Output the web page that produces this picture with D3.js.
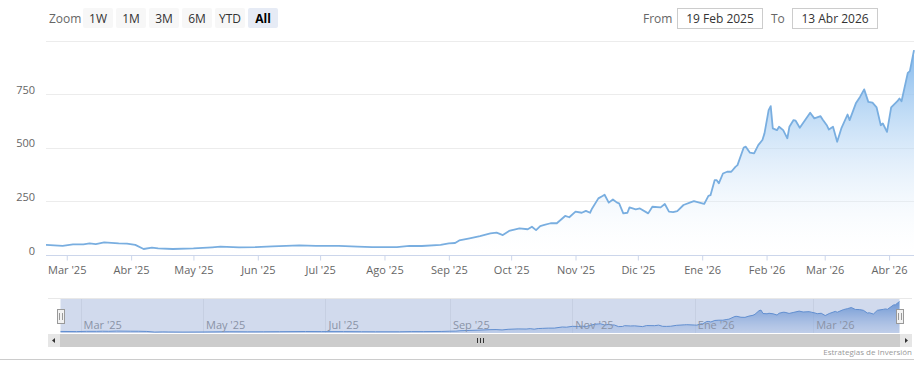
<!DOCTYPE html>
<html>
<head>
<meta charset="utf-8">
<script src="https://cdn.jsdelivr.net/npm/d3@7"></script>
<style>
  body { margin: 0; background: #fff; }
  text { font-family: "Open Sans", sans-serif; }
</style>
</head>
<body>
<div id="container"></div>
<script>
let w = 924;
let h = 378;

// price series
let dates = [
  "2025-02-19","2025-02-27","2025-03-04","2025-03-09","2025-03-12","2025-03-15","2025-03-19","2025-03-26",
  "2025-03-30","2025-04-03","2025-04-07","2025-04-11","2025-04-14","2025-04-21","2025-05-01","2025-05-10",
  "2025-05-14","2025-05-23","2025-05-31","2025-06-08","2025-06-21","2025-06-29","2025-07-10","2025-07-19",
  "2025-07-26","2025-08-07","2025-08-13","2025-08-19","2025-08-28","2025-09-01","2025-09-04","2025-09-06",
  "2025-09-11","2025-09-16","2025-09-21","2025-09-24","2025-09-27","2025-09-30","2025-10-05","2025-10-09",
  "2025-10-11","2025-10-13","2025-10-15","2025-10-17","2025-10-20","2025-10-23","2025-10-27","2025-10-29",
  "2025-11-01","2025-11-04","2025-11-06","2025-11-08","2025-11-09","2025-11-12","2025-11-14","2025-11-15",
  "2025-11-17","2025-11-19","2025-11-21","2025-11-22","2025-11-24","2025-11-26","2025-11-27","2025-11-30",
  "2025-12-02","2025-12-06","2025-12-08","2025-12-12","2025-12-14","2025-12-16","2025-12-18","2025-12-20",
  "2025-12-23","2025-12-27","2025-12-28","2026-01-01","2026-01-02","2026-01-04","2026-01-05","2026-01-07",
  "2026-01-08","2026-01-09","2026-01-11","2026-01-13","2026-01-15","2026-01-17","2026-01-18","2026-01-21",
  "2026-01-22","2026-01-24","2026-01-26","2026-01-28","2026-01-30","2026-01-31","2026-02-02","2026-02-03",
  "2026-02-04","2026-02-06","2026-02-07","2026-02-09","2026-02-11","2026-02-12","2026-02-14","2026-02-15",
  "2026-02-17","2026-02-19","2026-02-22","2026-02-24","2026-02-27","2026-02-28","2026-03-02","2026-03-03",
  "2026-03-05","2026-03-07","2026-03-09","2026-03-12","2026-03-13","2026-03-16","2026-03-18","2026-03-20",
  "2026-03-22","2026-03-24","2026-03-26","2026-03-28","2026-03-29","2026-03-31","2026-04-02","2026-04-05",
  "2026-04-06","2026-04-07","2026-04-10","2026-04-11","2026-04-13"
];
let prices = [
  47,43,50,50,54,51,59,54,
  53,47,28,34,31,28,31,36,
  39,36,37,40,45,43,43,39,
  37,37,43,42,47,54,56,68,
  78,88,101,104,93,112,124,120,
  132,116,135,140,148,148,182,176,
  202,197,206,197,217,264,275,281,
  244,259,244,241,194,197,222,213,
  217,194,225,222,238,202,200,205,
  233,248,251,241,238,276,279,349,
  349,334,380,388,388,411,419,501,
  505,477,474,512,536,567,675,694,
  590,582,598,582,544,598,629,626,
  593,621,663,637,647,632,605,585,
  598,528,590,655,629,707,737,772,
  714,710,688,605,613,574,688,717,
  730,717,849,857,955
];

let yTicks = [0, 250, 500, 750, 1000];
let monthNames = ["Ene","Feb","Mar","Abr","May","Jun","Jul","Ago","Sep","Oct","Nov","Dic"];
let zoomButtons = ["1W","1M","3M","6M","YTD","All"];
let fromLabel = "19 Feb 2025";
let toLabel = "13 Abr 2026";

let parse = d3.utcParse("%Y-%m-%d");
let data = dates.map(function(d, i){
  return { date: parse(d), value: prices[i] };
});
let startDate = parse("2025-02-19");
let endDate = parse("2026-04-13");

function monthLabel(d){
  return monthNames[d.getUTCMonth()] + " '" + String(d.getUTCFullYear()).slice(2);
}

let viz = d3.select("#container")
  .append("svg")
    .attr("width", w)
    .attr("height", h)
    .style("background-color", "#ffffff")
;

let defs = viz.append("defs");
let grad = defs.append("linearGradient")
  .attr("id", "areaGrad")
  .attr("x1", 0).attr("y1", 0).attr("x2", 0).attr("y2", 1);
grad.append("stop").attr("offset", "0%").attr("stop-color", "#7cb5ec").attr("stop-opacity", 0.95);
grad.append("stop").attr("offset", "100%").attr("stop-color", "#ffffff").attr("stop-opacity", 0.1);

let navGrad = defs.append("linearGradient")
  .attr("id", "navGrad")
  .attr("x1", 0).attr("y1", 0).attr("x2", 0).attr("y2", 1);
navGrad.append("stop").attr("offset", "0%").attr("stop-color", "#5f93d6").attr("stop-opacity", 0.9);
navGrad.append("stop").attr("offset", "100%").attr("stop-color", "#a9c4ec").attr("stop-opacity", 0.3);

//main plot
let xScale = d3.scaleUtc().domain([startDate, endDate]).range([46, 914]);
let yScale = d3.scaleLinear().domain([0, 1000]).range([255, 40.5]);

let grid = viz.append("g").attr("class", "grid");
grid.selectAll("line")
  .data(yTicks.filter(function(t){ return t > 0; }))
  .enter()
  .append("line")
    .attr("x1", 46)
    .attr("x2", 914)
    .attr("y1", function(d){ return Math.round(yScale(d)) + 0.5; })
    .attr("y2", function(d){ return Math.round(yScale(d)) + 0.5; })
    .attr("stroke", "#ececec")
;

let yAxis = d3.axisLeft(yScale).tickValues(yTicks.slice(0, 4)).tickSize(0).tickPadding(0);
let yAxisGroup = viz.append("g").attr("class", "yaxis")
  .attr("transform", "translate(35,-1)")
  .call(yAxis);
yAxisGroup.select(".domain").remove();
yAxisGroup.selectAll("text")
  .attr("dy", "0")
  .attr("fill", "#666666")
  .style("font-size", "11px")
  .style("font-family", "'Open Sans', sans-serif");

let area = d3.area()
  .x(function(d){ return xScale(d.date); })
  .y0(yScale(0))
  .y1(function(d){ return yScale(d.value); });
let line = d3.line()
  .x(function(d){ return xScale(d.date); })
  .y(function(d){ return yScale(d.value); });

viz.append("path")
  .datum(data)
  .attr("d", area)
  .attr("fill", "url(#areaGrad)");
viz.append("path")
  .datum(data)
  .attr("d", line)
  .attr("fill", "none")
  .attr("stroke", "#79aee0")
  .attr("stroke-width", 1.8)
  .attr("stroke-linejoin", "round");

let monthTicks = d3.utcMonth.range(d3.utcMonth.ceil(startDate), endDate);
let xAxis = d3.axisBottom(xScale)
  .tickValues(monthTicks)
  .tickFormat(monthLabel)
  .tickSize(5)
  .tickPadding(6);
let xAxisGroup = viz.append("g").attr("class", "xaxis")
  .attr("transform", "translate(0,255.5)")
  .call(xAxis);
xAxisGroup.select(".domain").attr("stroke", "#ccd6eb").attr("d", "M46,0H914");
xAxisGroup.selectAll(".tick line").attr("stroke", "#ccd6eb");
xAxisGroup.selectAll("text")
  .attr("fill", "#666666")
  .style("font-size", "11px")
  .style("font-family", "'Open Sans', sans-serif");

//range selector
let selector = viz.append("g").attr("class", "selector");
selector.append("text")
  .text("Zoom")
  .attr("x", 49)
  .attr("y", 22.5)
  .attr("fill", "#666666")
  .style("font-size", "12px");
let btns = selector.selectAll(".btn")
  .data(zoomButtons)
  .enter()
  .append("g")
    .attr("class", "btn")
    .attr("transform", function(d, i){ return "translate(" + (83 + i * 33) + ",8)"; });
btns.append("rect")
  .attr("width", 30)
  .attr("height", 20)
  .attr("rx", 2)
  .attr("fill", function(d){ return d == "All" ? "#e6ebf5" : "#f7f7f7"; });
btns.append("text")
  .text(function(d){ return d; })
  .attr("x", 15)
  .attr("y", 14.5)
  .attr("text-anchor", "middle")
  .attr("fill", function(d){ return d == "All" ? "#000000" : "#333333"; })
  .style("font-weight", function(d){ return d == "All" ? "bold" : "normal"; })
  .style("font-size", "12px");

let inputs = [
  { label: "From", lx: 643, bx: 677, value: fromLabel },
  { label: "To", lx: 771, bx: 792, value: toLabel }
];
let inp = selector.selectAll(".inp")
  .data(inputs)
  .enter()
  .append("g")
    .attr("class", "inp");
inp.append("text")
  .text(function(d){ return d.label; })
  .attr("x", function(d){ return d.lx; })
  .attr("y", 22.5)
  .attr("fill", "#666666")
  .style("font-size", "12px");
inp.append("rect")
  .attr("x", function(d){ return d.bx + 0.5; })
  .attr("y", 8.5)
  .attr("width", 85)
  .attr("height", 20)
  .attr("fill", "#ffffff")
  .attr("stroke", "#cccccc");
inp.append("text")
  .text(function(d){ return d.value; })
  .attr("x", function(d){ return d.bx + 43; })
  .attr("y", 22.5)
  .attr("text-anchor", "middle")
  .attr("fill", "#333333")
  .style("font-size", "12px");

//navigator
let navTop = 298;
let navBottom = 333;
let navX = d3.scaleUtc().domain([startDate, endDate]).range([60.5, 899.5]);
let navY = d3.scaleLinear().domain([0, 1000]).range([navBottom, navTop + 2]);
let nav = viz.append("g").attr("class", "navigator");

let navMonths = d3.utcMonth.range(d3.utcMonth.ceil(startDate), endDate, 2);
nav.selectAll(".navgrid")
  .data(navMonths)
  .enter()
  .append("line")
    .attr("class", "navgrid")
    .attr("x1", function(d){ return Math.round(navX(d)) + 0.5; })
    .attr("x2", function(d){ return Math.round(navX(d)) + 0.5; })
    .attr("y1", navTop)
    .attr("y2", navBottom)
    .attr("stroke", "#f0f0f0");

let navArea = d3.area()
  .x(function(d){ return navX(d.date); })
  .y0(navBottom)
  .y1(function(d){ return navY(d.value); });
let navLine = d3.line()
  .x(function(d){ return navX(d.date); })
  .y(function(d){ return navY(d.value); });
nav.append("path")
  .datum(data)
  .attr("d", navArea)
  .attr("fill", "url(#navGrad)");
nav.append("path")
  .datum(data)
  .attr("d", navLine)
  .attr("fill", "none")
  .attr("stroke", "#5f93d6")
  .attr("stroke-width", 1);

nav.selectAll(".navlabel")
  .data(navMonths)
  .enter()
  .append("text")
    .attr("class", "navlabel")
    .text(monthLabel)
    .attr("x", function(d){ return navX(d) + 3; })
    .attr("y", 329)
    .attr("fill", "#999999")
    .style("font-size", "11px");

// mask over the selected range
nav.append("rect")
  .attr("x", 60.5)
  .attr("y", navTop)
  .attr("width", 839)
  .attr("height", navBottom - navTop)
  .attr("fill", "rgba(102,133,194,0.3)");
nav.append("path")
  .attr("d", "M48," + (navTop + 0.5) + "H912")
  .attr("stroke", "#e8e8e8")
  .attr("fill", "none");

let handles = nav.selectAll(".handle")
  .data([60.5, 899.5])
  .enter()
  .append("g")
    .attr("class", "handle")
    .attr("transform", function(d){ return "translate(" + Math.round(d) + ",309)"; });
handles.append("rect")
  .attr("x", -3.5)
  .attr("y", 0.5)
  .attr("width", 7)
  .attr("height", 14)
  .attr("fill", "#f2f2f2")
  .attr("stroke", "#999999");
handles.append("path")
  .attr("d", "M-1.5,4V11M1.5,4V11")
  .attr("stroke", "#999999");

//scrollbar
let sb = viz.append("g").attr("class", "scrollbar");
sb.append("rect")
  .attr("x", 48).attr("y", 334)
  .attr("width", 864).attr("height", 13)
  .attr("fill", "#f2f2f2");
sb.append("rect")
  .attr("x", 60).attr("y", 334)
  .attr("width", 840).attr("height", 13)
  .attr("fill", "#cccccc");
sb.selectAll(".sbbtn")
  .data([48, 900])
  .enter()
  .append("rect")
    .attr("class", "sbbtn")
    .attr("x", function(d){ return d; })
    .attr("y", 334)
    .attr("width", 12)
    .attr("height", 13)
    .attr("fill", "#e6e6e6");
sb.append("path")
  .attr("d", "M55,338L52,340.5L55,343Z")
  .attr("fill", "#333333");
sb.append("path")
  .attr("d", "M905,338L908,340.5L905,343Z")
  .attr("fill", "#333333");
sb.append("path")
  .attr("d", "M477.5,338V343M480.5,338V343M483.5,338V343")
  .attr("stroke", "#333333");

//footer
viz.append("line")
  .attr("x1", 0).attr("x2", 914)
  .attr("y1", 359.5).attr("y2", 359.5)
  .attr("stroke", "#cccccc");
viz.append("text")
  .text("Estrategias de Inversión")
  .attr("x", 912)
  .attr("y", 355)
  .attr("text-anchor", "end")
  .attr("fill", "#999999")
  .style("font-size", "8px");
</script>
</body>
</html>
